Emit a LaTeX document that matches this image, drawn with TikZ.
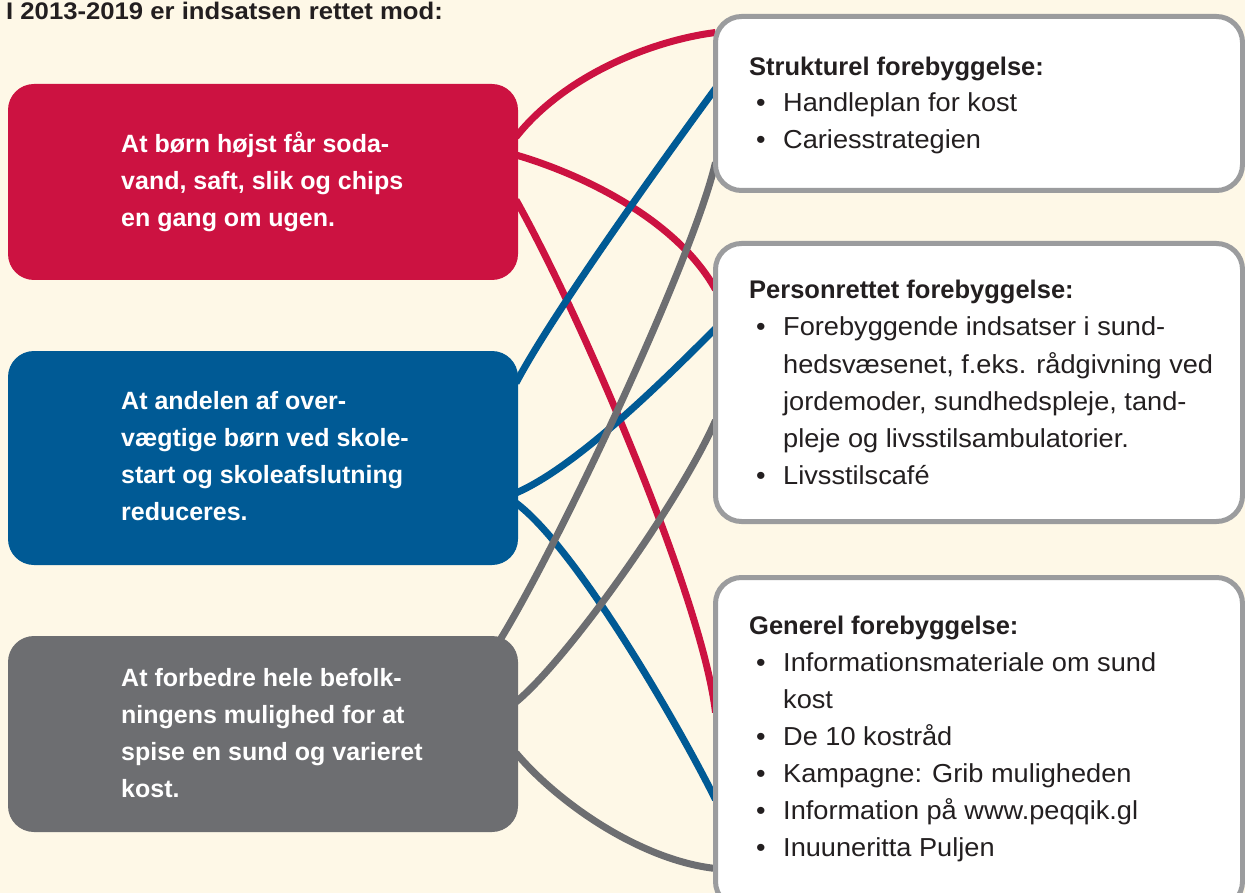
\documentclass[tikz,border=0pt]{standalone}
\usepackage{fontspec}
\setmainfont{Liberation Sans}
\newfontfamily\titlefont[FakeStretch=1.07]{Liberation Sans}
\newfontfamily\bodyfont[FakeStretch=1.045]{Liberation Sans}
\usetikzlibrary{calc}
\definecolor{bg}{HTML}{FEF8E7}
\definecolor{cred}{HTML}{CC1241}
\definecolor{cblue}{HTML}{005A95}
\definecolor{cgray}{HTML}{6D6E71}
\definecolor{cborder}{HTML}{9B9C9E}
\definecolor{ctext}{HTML}{231F20}
\pgfdeclarelayer{bglayer}
\pgfdeclarelayer{linelayer}
\pgfsetlayers{bglayer,linelayer,main}
\tikzset{
  lbox/.style={rounded corners=26pt, minimum width=510pt, anchor=north west, inner sep=0pt, outer sep=0pt},
  rbox/.style={draw=cborder, fill=white, line width=5pt, rounded corners=26pt, minimum width=527pt, anchor=north west, inner sep=0pt, outer sep=0pt},
  ltext/.style={anchor=base west, text=white, font=\bfseries\fontsize{25}{30}\selectfont, inner sep=0pt},
  rhead/.style={anchor=base west, text=ctext, font=\bfseries\fontsize{25.5}{30}\selectfont, inner sep=0pt},
  rtext/.style={anchor=base west, text=ctext, font=\bodyfont\fontsize{26}{30}\selectfont, inner sep=0pt},
  conn/.style={line width=7pt},
}
\newcommand\bitem[3]{%
  \node[rtext] (#1b) at (756,#2) {•};
  \node[rtext] (#1) at (783,#2) {#3};}
\newcommand\contline[3]{\node[rtext] (#1) at (783,#2) {#3};}
\begin{document}
\begin{tikzpicture}[x=1pt,y=-1pt]
\useasboundingbox (0,0) rectangle (1245,893);
\begin{pgfonlayer}{bglayer}
\fill[bg] (0,0) rectangle (1245,893);
\end{pgfonlayer}

\node[anchor=base west, inner sep=0pt, text=ctext, font=\titlefont\bfseries\fontsize{24}{28}\selectfont] (title) at (6,20) {I 2013-2019 er indsatsen rettet mod:};

% left boxes
\node[lbox, fill=cred, minimum height=196pt] (red) at (8,84) {};
\node[lbox, fill=cblue, minimum height=214pt] (blue) at (8,351) {};
\node[lbox, fill=cgray, minimum height=196pt] (gray) at (8,636) {};

% right boxes
\node[rbox, minimum height=174pt] (s1) at (715.5,16.5) {};
\node[rbox, minimum height=278pt] (s2) at (715.5,243.5) {};
\node[rbox, minimum height=330pt] (s3) at (715.5,577.5) {};

% connectors
\begin{pgfonlayer}{linelayer}
\draw[conn, cred] ($(red.north east)+(-2,53)$) .. controls +(49,-62) and +(-63,8) .. ($(s1.north west)+(0,16)$);
\draw[conn, cred] ($(red.north east)+(-2,71)$) .. controls +(62,18) and +(-40,-72) .. ($(s2.north west)+(0,46)$);
\draw[conn, cred] ($(red.north east)+(-2,116)$) .. controls +(66,118) and +(-13,-113) .. ($(s3.north west)+(0,135)$);
\draw[conn, cblue] ($(blue.north east)+(-2,32)$) .. controls +(37,-70) and +(-55,75) .. ($(s1.north west)+(0,72)$);
\draw[conn, cblue] ($(blue.north east)+(-2,142)$) .. controls +(62,-27) and +(-50,50) .. ($(s2.north west)+(0,85)$);
\draw[conn, cblue] ($(blue.north east)+(-2,152)$) .. controls +(59,44) and +(-40,-80) .. ($(s3.north west)+(0,222)$);
\draw[conn, cgray] ($(gray.north east)+(-18,4)$) .. controls +(60,-98) and +(-23,98) .. ($(s1.north west)+(0,146)$);
\draw[conn, cgray] ($(gray.north east)+(-2,66)$) .. controls +(52,-43) and +(-35,80) .. ($(s2.north west)+(0,177)$);
\draw[conn, cgray] ($(gray.north east)+(-2,117)$) .. controls +(44,52) and +(-73,-8) .. ($(s3.north west)+(0,291)$);
\end{pgfonlayer}

% left texts
\node[ltext] (rt1) at (121,153) {At børn højst får soda-};
\node[ltext] (rt2) at (121,190) {vand, saft, slik og chips};
\node[ltext] (rt3) at (121,227) {en gang om ugen.};
\node[ltext] (bt1) at (121,409) {At andelen af over-};
\node[ltext] (bt2) at (121,446) {vægtige børn ved skole-};
\node[ltext] (bt3) at (121,483) {start og skoleafslutning};
\node[ltext] (bt4) at (121,520) {reduceres.};
\node[ltext] (gt1) at (121,686) {At forbedre hele befolk-};
\node[ltext] (gt2) at (121,723) {ningens mulighed for at};
\node[ltext] (gt3) at (121,760) {spise en sund og varieret};
\node[ltext] (gt4) at (121,797) {kost.};

% right texts
\node[rhead] (h1) at (749,76) {Strukturel forebyggelse:};
\bitem{a1}{112}{Handleplan for kost}
\bitem{a2}{149}{Cariesstrategien}

\node[rhead] (h2) at (749,299) {Personrettet forebyggelse:};
\bitem{b1}{336}{Forebyggende indsatser i sund-}
\contline{b2}{373}{hedsvæsenet, f.eks. rådgivning ved}
\contline{b3}{410}{jordemoder, sundhedspleje, tand-}
\contline{b4}{447}{pleje og livsstilsambulatorier.}
\bitem{b5}{484}{Livsstilscafé}

\node[rhead] (h3) at (749,634) {Generel forebyggelse:};
\bitem{c1}{671}{Informationsmateriale om sund}
\contline{c2}{708}{kost}
\bitem{c3}{745}{De 10 kostråd}
\bitem{c4}{782}{Kampagne: Grib muligheden}
\bitem{c5}{819}{Information på www.peqqik.gl}
\bitem{c6}{856}{Inuuneritta Puljen}
\end{tikzpicture}
\end{document}
